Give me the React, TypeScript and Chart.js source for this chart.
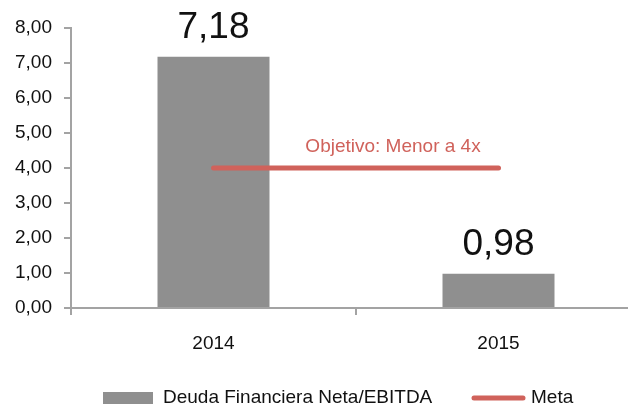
import React, { useEffect, useRef } from "react";
import { Chart, registerables } from "chart.js";

Chart.register(...registerables);

const categories = ["2014", "2015"];
const ratioValues = [7.18, 0.98];
const metaValues = [4, 4];
const yTicks = [0, 1, 2, 3, 4, 5, 6, 7, 8];
const seriesNames = ["Deuda Financiera Neta/EBITDA", "Meta"];
const annotationText = "Objetivo: Menor a 4x";

const BAR = "#8f8f8f";
const RED = "#d0625b";
const AXIS = "#a3a3a3";
const FONT = "'Liberation Sans', Arial, Helvetica, sans-serif";

const fmt = (v: number) => v.toFixed(2).replace(".", ",");

const overlay = {
  id: "overlay",
  afterDatasetsDraw(chart: any) {
    const ctx = chart.ctx;
    const meta0 = chart.getDatasetMeta(0);
    ctx.save();
    ctx.fillStyle = "#111";
    ctx.font = `37px ${FONT}`;
    ctx.textAlign = "center";
    ctx.textBaseline = "alphabetic";
    meta0.data.forEach((bar: any, i: number) => {
      ctx.fillText(fmt(ratioValues[i]), bar.x, bar.y - 19);
    });
    const meta1 = chart.getDatasetMeta(1);
    const p0 = meta1.data[0];
    const p1 = meta1.data[1];
    ctx.fillStyle = RED;
    ctx.font = `19px ${FONT}`;
    ctx.fillText(annotationText, (p0.x + p1.x) / 2 + 37, p0.y - 16);

    // legend
    const ly = 398;
    ctx.fillStyle = BAR;
    ctx.fillRect(103, ly - 6, 50, 12);
    ctx.fillStyle = "#111";
    ctx.textAlign = "left";
    ctx.textBaseline = "alphabetic";
    ctx.font = `19px ${FONT}`;
    ctx.fillText(seriesNames[0], 163, ly + 5);
    ctx.strokeStyle = RED;
    ctx.lineWidth = 5;
    ctx.lineCap = "round";
    ctx.beginPath();
    ctx.moveTo(474, ly);
    ctx.lineTo(523, ly);
    ctx.stroke();
    ctx.fillText(seriesNames[1], 531, ly + 5);
    ctx.restore();
  },
};

export default function App() {
  const ref = useRef<HTMLCanvasElement>(null);
  useEffect(() => {
    if (!ref.current) return;
    const chart = new Chart(ref.current, {
      type: "bar",
      data: {
        labels: categories,
        datasets: [
          {
            type: "bar",
            label: seriesNames[0],
            data: ratioValues,
            backgroundColor: BAR,
            barPercentage: 0.393,
            categoryPercentage: 1,
            order: 2,
          },
          {
            type: "line",
            label: seriesNames[1],
            data: metaValues,
            borderColor: RED,
            borderWidth: 5,
            borderCapStyle: "round",
            pointRadius: 0,
            fill: false,
            order: 1,
          } as any,
        ],
      },
      options: {
        animation: false,
        responsive: false,
        devicePixelRatio: 1,
        layout: { padding: { top: 28, right: 9, left: 0, bottom: 0 } },
        plugins: { legend: { display: false }, tooltip: { enabled: false } },
        scales: {
          x: {
            offset: true,
            grid: {
              offset: true,
              drawOnChartArea: false,
              tickLength: 7,
              color: AXIS,
              lineWidth: 2,
            },
            border: { color: AXIS, width: 2 },
            ticks: { color: "#111", font: { family: FONT, size: 19 }, padding: 17 },
            afterFit(scale: any) {
              scale.height = 100;
            },
          },
          y: {
            min: 0,
            max: 8,
            afterBuildTicks(scale: any) {
              scale.ticks = yTicks.map((v) => ({ value: v }));
            },
            grid: {
              drawOnChartArea: false,
              tickLength: 7,
              color: AXIS,
              lineWidth: 2,
            },
            border: { color: AXIS, width: 2 },
            ticks: {
              color: "#111",
              font: { family: FONT, size: 19 },
              padding: 12,
              callback: (v: any) => fmt(Number(v)),
            },
            afterFit(scale: any) {
              scale.width = 71;
            },
          },
        },
      },
      plugins: [overlay],
    });
    return () => chart.destroy();
  }, []);
  return (
    <div style={{ position: "fixed", left: 0, top: 0, width: 628, height: 408, overflow: "hidden", background: "#fff" }}>
      <canvas ref={ref} width={650} height={408} style={{ width: 650, height: 408, display: "block" }} />
    </div>
  );
}
